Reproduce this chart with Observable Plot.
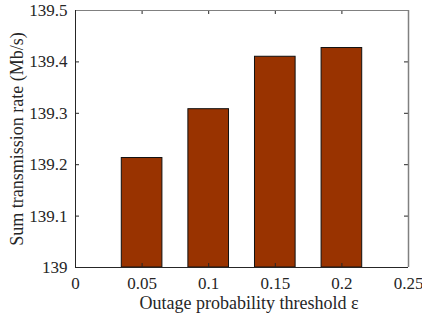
<!DOCTYPE html>
<html>
<head>
<meta charset="utf-8">
<script src="https://cdn.jsdelivr.net/npm/d3@7"></script>
<script src="https://cdn.jsdelivr.net/npm/@observablehq/plot@0.6"></script>
<style>
  html, body { margin: 0; padding: 0; background: #fff; }
  #chart svg { display: block; }
  #chart svg text { font-family: 'Liberation Serif', 'Times New Roman', serif !important; }
</style>
</head>
<body>
<div id="chart"></div>
<script>
// Data
const thresholds = [0.05, 0.1, 0.15, 0.2];
const rates = [139.213, 139.308, 139.41, 139.427];
const xTicks = [0, 0.05, 0.1, 0.15, 0.2, 0.25];
const yTicks = [139, 139.1, 139.2, 139.3, 139.4, 139.5];
const xLabel = "Outage probability threshold ε";
const yLabel = "Sum transmission rate (Mb/s)";

const xDomain = [0, 0.25];
const yDomain = [139, 139.5];
const barWidth = 0.0305;

const data = thresholds.map((x, i) => ({x, v: rates[i]}));

const W = 422, H = 320;
const mL = 75, mR = 14, mT = 10, mB = 53;
const plotW = W - mL - mR, plotH = H - mT - mB;
const tickLen = 4;
const dark = "#262626";
const gray = "#808080";
const serif = "'Liberation Serif', 'Times New Roman', serif";

const chart = Plot.plot({
  width: W,
  height: H,
  marginLeft: mL,
  marginRight: mR,
  marginTop: mT,
  marginBottom: mB,
  style: {fontSize: "16px", fontFamily: serif, color: dark, background: "#fff"},
  x: {domain: xDomain},
  y: {domain: yDomain},
  marks: [
    Plot.rectY(data, {
      x1: d => d.x - barWidth / 2,
      x2: d => d.x + barWidth / 2,
      y1: yDomain[0],
      y2: "v",
      fill: "#993300",
      stroke: "#111",
      strokeWidth: 1
    }),
    // inward ticks
    Plot.tickX(xTicks, {x: d => d, insetTop: plotH - tickLen, stroke: dark}),
    Plot.tickX(xTicks, {x: d => d, insetBottom: plotH - tickLen, stroke: dark}),
    Plot.tickY(yTicks, {y: d => d, insetRight: plotW - tickLen, stroke: dark}),
    Plot.tickY(yTicks, {y: d => d, insetLeft: plotW - tickLen, stroke: dark}),
    // box
    Plot.ruleY([yDomain[1]], {stroke: gray, strokeWidth: 1}),
    Plot.ruleX([xDomain[1]], {stroke: gray, strokeWidth: 1.5}),
    Plot.ruleY([yDomain[0]], {stroke: dark, strokeWidth: 1}),
    Plot.ruleX([xDomain[0]], {stroke: dark, strokeWidth: 1}),
    Plot.axisX({
      ticks: xTicks,
      tickSize: 0,
      tickPadding: 9,
      tickFormat: d => String(+d.toFixed(2)),
      label: null,
      fill: dark,
      fontSize: 17
    }),
    Plot.axisY({
      ticks: yTicks,
      tickSize: 0,
      tickPadding: 8,
      tickFormat: d => String(+d.toFixed(1)),
      label: null,
      fill: dark,
      fontSize: 17
    }),
    Plot.text([xLabel], {
      text: d => d,
      frameAnchor: "bottom",
      lineAnchor: "middle",
      dy: 36,
      dx: 7,
      fontSize: 18,
      fill: dark
    }),
    Plot.text([yLabel], {
      text: d => d,
      frameAnchor: "left",
      textAnchor: "middle",
      lineAnchor: "middle",
      rotate: -90,
      dx: -58,
      fontSize: 18,
      fill: dark
    })
  ]
});

document.getElementById("chart").appendChild(chart);
</script>
</body>
</html>
